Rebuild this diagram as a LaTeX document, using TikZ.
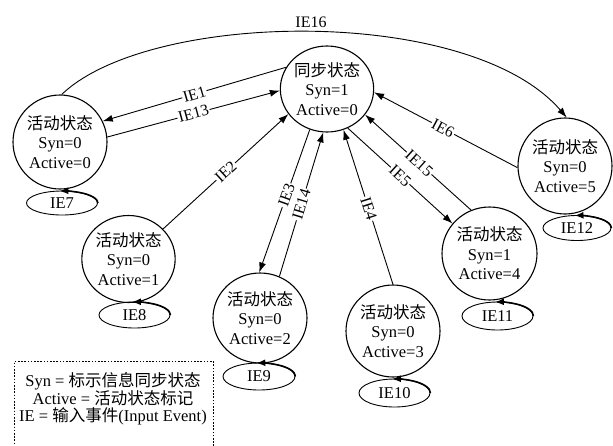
\documentclass[tikz,border=0pt]{standalone}
\usepackage{fontspec}
\setmainfont{Liberation Serif}
\newfontfamily\cjk{Noto Sans CJK SC}
\usetikzlibrary{shapes.geometric,arrows.meta}
\newcommand\stlabel[2]{{\cjk 活动状态}\\Syn=#1\\Active=#2}
\begin{document}
\begin{tikzpicture}[x=1pt,y=1pt,
  every node/.style={font=\fontsize{16.5}{19.5}\selectfont},
  state/.style={ellipse, draw, line width=1.1pt, inner sep=0pt, align=center},
  loopnode/.style={ellipse, draw, line width=0.9pt, inner sep=0pt, minimum width=71pt},
  edge/.style={line width=0.9pt, -{Latex[length=10pt,width=7pt]}},
  lbl/.style={fill=white, inner sep=1pt, sloped, font=\fontsize{16}{16}\selectfont},
  looparr/.style={line width=1.6pt, -{Latex[length=9pt,width=7pt]}}]
\useasboundingbox (0,0) rectangle (613,-445);

% states
\node[state, minimum width=89pt, minimum height=86pt] (sync) at (327,-89) {{\cjk 同步状态}\\Syn=1\\Active=0};
\node[state, minimum width=94pt, minimum height=94pt] (s0) at (60,-142) {\stlabel{0}{0}};
\node[state, minimum width=91pt, minimum height=87pt] (s1) at (128.5,-259) {\stlabel{0}{1}};
\node[state, minimum width=94pt, minimum height=90pt] (s2) at (260,-318) {\stlabel{0}{2}};
\node[state, minimum width=94pt, minimum height=92pt] (s3) at (393,-331) {\stlabel{0}{3}};
\node[state, minimum width=95pt, minimum height=93pt] (s4) at (489.5,-253.5) {\stlabel{1}{4}};
\node[state, minimum width=94pt, minimum height=96pt] (s5) at (565,-166) {\stlabel{0}{5}};

% self-loop ellipses
\node[loopnode, minimum height=24pt] (ie7) at (62,-203) {IE7};
\node[loopnode, minimum height=26pt] (ie8) at (134.5,-315) {IE8};
\node[loopnode, minimum width=72pt, minimum height=27pt] (ie9) at (259,-376.5) {IE9};
\node[loopnode, minimum height=28pt] (ie10) at (394.5,-393) {IE10};
\node[loopnode, minimum height=28pt] (ie11) at (497.5,-316) {IE11};
\node[loopnode, minimum width=68pt, minimum height=25pt] (ie12) at (577,-228) {IE12};

\draw[looparr] (ie7.east) arc[start angle=0, end angle=95, x radius=35.5, y radius=12];
\draw[looparr] (ie8.east) arc[start angle=0, end angle=95, x radius=35.5, y radius=13];
\draw[looparr] (ie9.east) arc[start angle=0, end angle=95, x radius=36, y radius=13.5];
\draw[looparr] (ie10.east) arc[start angle=0, end angle=95, x radius=35.5, y radius=14];
\draw[looparr] (ie11.east) arc[start angle=0, end angle=95, x radius=35.5, y radius=14];
\draw[looparr] (ie12.east) arc[start angle=0, end angle=95, x radius=34, y radius=12.5];

% transitions
\draw[edge] (sync.152) -- node[lbl, pos=.5]{IE1} (s0.26);
\draw[edge] (s0.6) -- node[lbl, pos=.5]{IE13} (sync.182);
\draw[edge] (s1.41) -- node[lbl, pos=.5]{IE2} (sync.213);
\draw[edge] (sync.247) -- node[lbl, pos=.46]{IE3} (s2.91);
\draw[edge] (s2.65) -- node[lbl, pos=.5]{IE14} (sync.265);
\draw[edge] (s3.90) -- node[lbl, pos=.49]{IE4} (sync.292);
\draw[edge] (sync.298) -- node[lbl, pos=.5]{IE5} (s4.141);
\draw[edge] (s4.113) -- node[lbl, pos=.49]{IE15} (sync.326);
\draw[edge] (s5.182) -- node[lbl, pos=.52]{IE6} (sync.356);
\draw[edge] (s0.88) .. controls (150,-10) and (470,-5) .. node[pos=.5, above=1pt, font=\fontsize{16}{16}\selectfont]{IE16} (s5.88);

% legend
\node[draw, line width=0.9pt, dash pattern=on 1.6pt off 1.6pt, minimum width=199pt, minimum height=100pt, anchor=north west] (legendbox) at (14,-361) {};
\node[align=center, font=\fontsize{16.5}{17.5}\selectfont] (legend) at (113,-399)
  {Syn = {\cjk 标示信息同步状态}\\Active = {\cjk 活动状态标记}\\IE = {\cjk 输入事件}(Input Event)};
\end{tikzpicture}
\end{document}
